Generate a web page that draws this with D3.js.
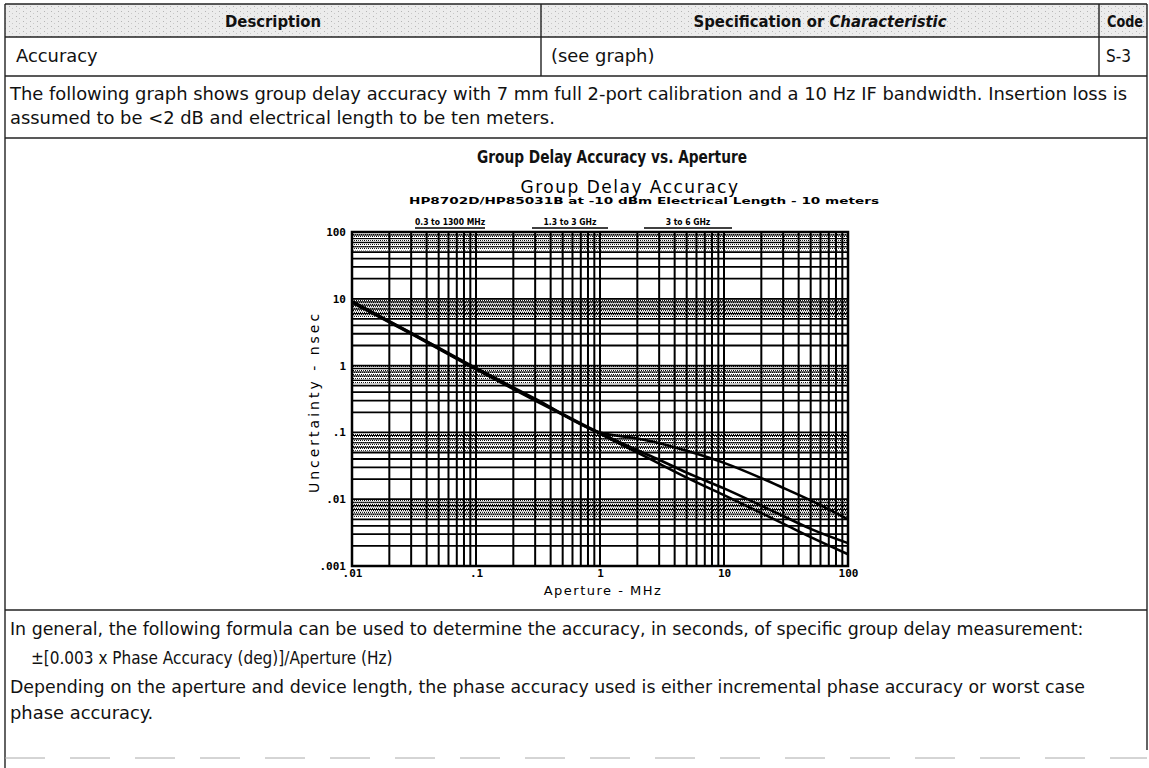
<!DOCTYPE html>
<html>
<head>
<meta charset="utf-8">
<script src="https://cdn.jsdelivr.net/npm/d3@7"></script>
<style>
  html, body { margin: 0; padding: 0; background: #fff; }
  svg { display: block; }
  .doc { font-family: "Liberation Sans Narrow", "DejaVu Sans Condensed", "Arial Narrow", sans-serif; fill: #111; }
  .plot { font-family: "DejaVu Sans Mono", monospace; fill: #000; }
</style>
</head>
<body>
<svg id="chart" width="1149" height="768"></svg>
<script>
// ---------------- data ----------------
const headerLabels = ["Description", "Specification or ", "Characteristic", "Code"];
const rowLabels = ["Accuracy", "(see graph)", "S-3"];
const introLines = [
  "The following graph shows group delay accuracy with 7 mm full 2-port calibration and a 10 Hz IF bandwidth. Insertion loss is",
  "assumed to be <2 dB and electrical length to be ten meters."
];
const sectionTitle = "Group Delay Accuracy vs. Aperture";
const plotTitle = "Group Delay Accuracy";
const plotSubtitle = "HP8702D/HP85031B at -10 dBm Electrical Length - 10 meters";
const rangeLabels = ["0.3 to 1300 MHz", "1.3 to 3 GHz", "3 to 6 GHz"];
const xTickValues = [0.01, 0.1, 1, 10, 100];
const xTickLabels = [".01", ".1", "1", "10", "100"];
const yTickValues = [100, 10, 1, 0.1, 0.01, 0.001];
const yTickLabels = ["100", "10", "1", ".1", ".01", ".001"];
const xAxisTitle = "Aperture - MHz";
const yAxisTitle = "Uncertainty - nsec";
// aperture (MHz) and uncertainty (nsec)
const apertures   = [0.01, 0.03, 0.1, 0.3, 1, 2, 3, 5, 10, 20, 30, 50, 100];
const seriesLow   = [8.8, 3.0, 0.88, 0.30, 0.095, 0.050, 0.034, 0.021, 0.0115, 0.0062, 0.0043, 0.0027, 0.0015];
const seriesMid   = [9.0, 3.05, 0.90, 0.31, 0.098, 0.054, 0.039, 0.025, 0.0145, 0.0080, 0.0056, 0.0036, 0.0022];
const seriesHigh  = [9.2, 3.1, 0.92, 0.32, 0.100, 0.081, 0.069, 0.053, 0.035, 0.0207, 0.0148, 0.0096, 0.0050];
const footerLines = [
  "In general, the following formula can be used to determine the accuracy, in seconds, of specific group delay measurement:",
  "\u00b1[0.003 x Phase Accuracy (deg)]/Aperture (Hz)",
  "Depending on the aperture and device length, the phase accuracy used is either incremental phase accuracy or worst case",
  "phase accuracy."
];

// ---------------- layout ----------------
const svg = d3.select("#chart");
const W = 1149, H = 768;
const L = 5, R = 1147;
const colX = [L, 541, 1099, R];
const rowY = [4, 37, 76, 138, 610];

const defs = svg.append("defs");
const pat = defs.append("pattern").attr("id", "stip").attr("patternUnits", "userSpaceOnUse")
  .attr("width", 4).attr("height", 4);
pat.append("rect").attr("width", 4).attr("height", 4).attr("fill", "#fff");
pat.append("rect").attr("x", 0).attr("y", 0).attr("width", 1).attr("height", 1).attr("fill", "#000");
pat.append("rect").attr("x", 2).attr("y", 0).attr("width", 1).attr("height", 1).attr("fill", "#333");
pat.append("rect").attr("x", 1).attr("y", 2).attr("width", 1).attr("height", 1).attr("fill", "#000");
pat.append("rect").attr("x", 3).attr("y", 2).attr("width", 1).attr("height", 1).attr("fill", "#333");
pat.append("rect").attr("x", 0).attr("y", 3).attr("width", 4).attr("height", 1).attr("fill", "#ccc");
const hp = defs.append("pattern").attr("id", "hdr").attr("patternUnits", "userSpaceOnUse")
  .attr("width", 7).attr("height", 5);
hp.append("rect").attr("width", 7).attr("height", 5).attr("fill", "#ececec");
hp.append("rect").attr("x", 2).attr("y", 1).attr("width", 1).attr("height", 1).attr("fill", "#b5b5b5");
hp.append("rect").attr("x", 5).attr("y", 3).attr("width", 1).attr("height", 1).attr("fill", "#c8c8c8");

// header fill
svg.append("rect").attr("x", L).attr("y", rowY[0]).attr("width", R - L).attr("height", rowY[1] - rowY[0])
  .attr("fill", "url(#hdr)");

// table lines
const lineG = svg.append("g").attr("stroke", "#222").attr("stroke-width", 1.4);
rowY.forEach(y => {
  lineG.append("line").attr("x1", L).attr("x2", R).attr("y1", y).attr("y2", y);
});
lineG.append("line").attr("x1", L).attr("x2", L).attr("y1", rowY[0]).attr("y2", H);
lineG.append("line").attr("x1", R).attr("x2", R).attr("y1", rowY[0]).attr("y2", 750);
[colX[1], colX[2]].forEach(x => {
  lineG.append("line").attr("x1", x).attr("x2", x).attr("y1", rowY[0]).attr("y2", rowY[2]);
});
svg.append("line").attr("x1", L).attr("x2", R).attr("y1", 758).attr("y2", 758)
  .attr("stroke", "#aaa").attr("stroke-width", 1).attr("stroke-dasharray", "40,25");

// helpers: stretch text horizontally
function fit(sel, width, adj) {
  sel.attr("textLength", width).attr("lengthAdjust", adj || "spacingAndGlyphs");
  return sel;
}
function scaleBy(sel, f) {
  const w = sel.node().getComputedTextLength();
  return fit(sel, w * f);
}

// header texts
const doc = svg.append("g").attr("class", "doc");
doc.append("text").attr("x", (colX[0] + colX[1]) / 2).attr("y", 27).attr("text-anchor", "middle")
  .attr("font-size", 16.5).attr("font-weight", "bold").text(headerLabels[0]);
const spec = doc.append("text").attr("x", (colX[1] + colX[2]) / 2).attr("y", 27).attr("text-anchor", "middle")
  .attr("font-size", 16.5).attr("font-weight", "bold");
spec.append("tspan").text(headerLabels[1]);
spec.append("tspan").attr("font-style", "italic").text(headerLabels[2]);
fit(doc.append("text").attr("x", (colX[2] + colX[3]) / 2 + 2).attr("y", 27).attr("text-anchor", "middle")
  .attr("font-size", 16.5).attr("font-weight", "bold").text(headerLabels[3]), 36);

const BODY = 17;
// intro (line 1 sets the stretch factor for body text)
const intro1 = doc.append("text").attr("x", 10).attr("y", 100).attr("font-size", BODY).text(introLines[0]);
const f = 1117 / intro1.node().getComputedTextLength();
fit(intro1, 1117);
scaleBy(doc.append("text").attr("x", 10).attr("y", 124).attr("font-size", BODY).text(introLines[1]), f);

// row 2
[16, 551, 1106].forEach((xx, i) => {
  scaleBy(doc.append("text").attr("x", xx).attr("y", 62).attr("font-size", BODY).text(rowLabels[i]), i === 2 ? 1 : f);
});

// section title
fit(doc.append("text").attr("x", 612).attr("y", 163).attr("text-anchor", "middle")
  .attr("font-size", 18).attr("font-weight", "bold").text(sectionTitle), 270);

// footer
scaleBy(doc.append("text").attr("x", 10).attr("y", 635).attr("font-size", BODY).text(footerLines[0]), f * 0.97);
scaleBy(doc.append("text").attr("x", 31).attr("y", 664).attr("font-size", BODY).text(footerLines[1]), 1.0);
scaleBy(doc.append("text").attr("x", 10).attr("y", 693).attr("font-size", BODY).text(footerLines[2]), f * 0.97);
scaleBy(doc.append("text").attr("x", 10).attr("y", 719).attr("font-size", BODY).text(footerLines[3]), f);

// ---------------- plot ----------------
const px0 = 352, px1 = 848, py0 = 232, py1 = 566;
const x = d3.scaleLog().domain([0.01, 100]).range([px0, px1]);
const y = d3.scaleLog().domain([0.001, 100]).range([py1, py0]);

const plot = svg.append("g").attr("class", "plot");

// stipple bands (upper part of each decade)
const decadesY = [0.001, 0.01, 0.1, 1, 10];
plot.append("g").selectAll("rect").data(decadesY).join("rect")
  .attr("x", px0).attr("width", px1 - px0)
  .attr("y", d => y(d * 10)).attr("height", d => y(d * 5.3) - y(d * 10))
  .attr("fill", "url(#stip)");

// grid values
const xGrid = [];
[0.01, 0.1, 1, 10].forEach(d => { for (let k = 1; k <= 9; k++) xGrid.push(d * k); });
xGrid.push(100);
const yGrid = [];
decadesY.forEach(d => { for (let k = 1; k <= 9; k++) yGrid.push(d * k); });
yGrid.push(100);

const gridG = plot.append("g").attr("stroke", "#000");
gridG.selectAll("line.h").data(yGrid).join("line").attr("class", "h")
  .attr("x1", px0).attr("x2", px1).attr("y1", d => y(d)).attr("y2", d => y(d))
  .attr("stroke-width", d => (d >= 6 * Math.pow(10, Math.floor(Math.log10(d) + 1e-9))) ? 1.1 : 1.8);
gridG.selectAll("line.v").data(xGrid).join("line").attr("class", "v")
  .attr("x1", d => x(d)).attr("x2", d => x(d)).attr("y1", py0).attr("y2", py1)
  .attr("stroke-width", 2);
plot.append("rect").attr("x", px0).attr("y", py0).attr("width", px1 - px0).attr("height", py1 - py0)
  .attr("fill", "none").attr("stroke", "#000").attr("stroke-width", 2.5);

// curves
const line = d3.line().x(d => x(d[0])).y(d => y(d[1])).curve(d3.curveMonotoneX);
[seriesLow, seriesMid, seriesHigh].forEach(s => {
  plot.append("path").datum(apertures.map((a, i) => [a, s[i]]))
    .attr("d", line).attr("fill", "none").attr("stroke", "#000").attr("stroke-width", 2.6);
});

// axes tick labels
const xAxis = d3.axisBottom(x).tickValues(xTickValues).tickFormat((d, i) => xTickLabels[i]).tickSize(0).tickPadding(3);
const gx = plot.append("g").attr("transform", `translate(0,${py1})`).call(xAxis);
gx.select(".domain").remove();
gx.selectAll("text").attr("font-family", "DejaVu Sans Mono").attr("font-weight", "bold").attr("font-size", 11).attr("fill", "#000");
const yAxis = d3.axisLeft(y).tickValues(yTickValues).tickFormat((d, i) => yTickLabels[i]).tickSize(0).tickPadding(6);
const gy = plot.append("g").attr("transform", `translate(${px0},0)`).call(yAxis);
gy.select(".domain").remove();
gy.selectAll("text").attr("font-family", "DejaVu Sans Mono").attr("font-weight", "bold").attr("font-size", 11).attr("fill", "#000");

// titles
plot.append("text").attr("x", 630).attr("y", 193).attr("text-anchor", "middle")
  .attr("font-family", "DejaVu Sans").attr("font-size", 17).attr("letter-spacing", 1.5).text(plotTitle);
fit(plot.append("text").attr("x", 644).attr("y", 204).attr("text-anchor", "middle")
  .attr("font-family", "DejaVu Sans").attr("font-weight", "bold").attr("font-size", 9.5).text(plotSubtitle), 470);

// range labels
const rangeX = [450, 570, 688];
const rangeW = [70, 76, 88];
rangeLabels.forEach((t, i) => {
  plot.append("text").attr("x", rangeX[i]).attr("y", 225).attr("text-anchor", "middle")
    .attr("font-family", "DejaVu Sans Condensed").attr("font-weight", "bold").attr("font-size", 8.5).text(t);
  plot.append("line").attr("x1", rangeX[i] - rangeW[i] / 2).attr("x2", rangeX[i] + rangeW[i] / 2)
    .attr("y1", 228).attr("y2", 228).attr("stroke", "#000").attr("stroke-width", 1.3);
});

// axis titles
plot.append("text").attr("x", 603).attr("y", 595).attr("text-anchor", "middle")
  .attr("font-family", "DejaVu Sans").attr("font-size", 13).attr("letter-spacing", 1.5).text(xAxisTitle);
plot.append("text").attr("transform", `translate(319,402) rotate(-90)`).attr("text-anchor", "middle")
  .attr("font-family", "DejaVu Sans").attr("font-size", 14).attr("letter-spacing", 3).text(yAxisTitle);
</script>
</body>
</html>
